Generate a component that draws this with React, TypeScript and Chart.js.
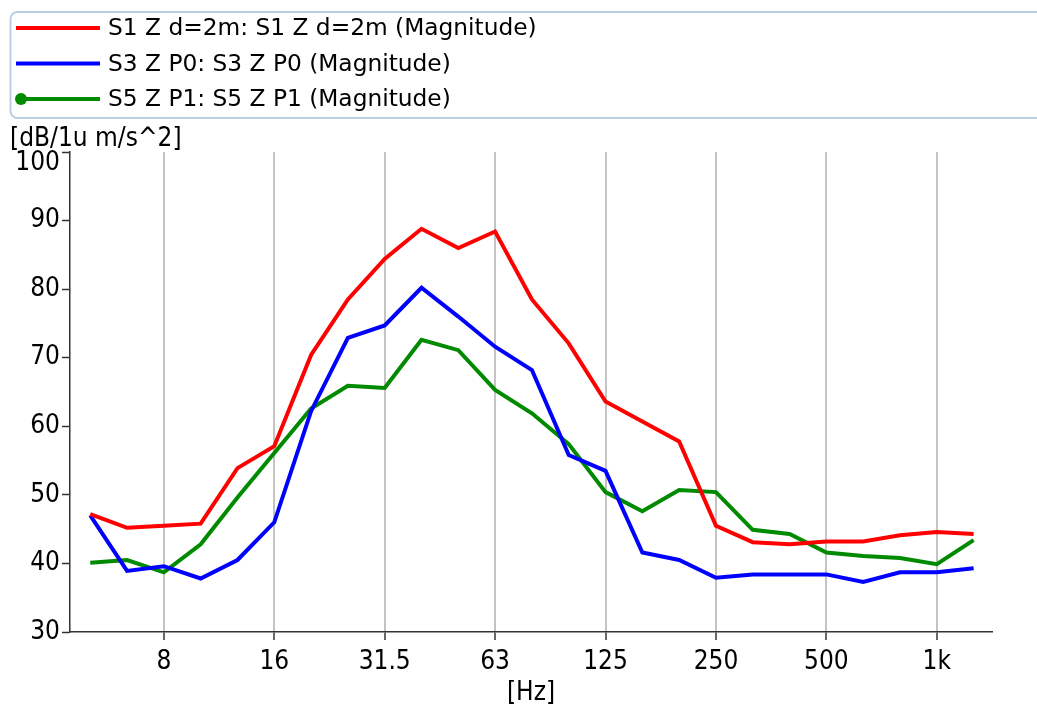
import React, { useEffect, useRef } from "react";
import { Chart, registerables } from "chart.js";

Chart.register(...registerables);

// Third-octave band centre frequencies (x categories)
const bands = ["5", "6.3", "8", "10", "12.5", "16", "20", "25", "31.5", "40", "50", "63", "80", "100", "125", "160", "200", "250", "315", "400", "500", "630", "800", "1k", "1.25k"];

// Series values [dB re 1u m/s^2]
const s1Values = [47.2, 45.2, 45.5, 45.8, 53.9, 57.1, 70.4, 78.5, 84.4, 88.8, 86.0, 88.4, 78.5, 72.1, 63.6, 60.7, 57.8, 45.5, 43.1, 42.8, 43.2, 43.2, 44.1, 44.6, 44.3];
const s3Values = [47.0, 38.9, 39.6, 37.8, 40.5, 46.0, 62.2, 72.9, 74.7, 80.2, 76.0, 71.6, 68.2, 55.8, 53.5, 41.6, 40.5, 37.9, 38.4, 38.4, 38.4, 37.3, 38.7, 38.7, 39.3];
const s5Values = [40.1, 40.5, 38.7, 42.8, 49.6, 56.1, 62.6, 65.9, 65.6, 72.6, 71.1, 65.3, 61.9, 57.4, 50.4, 47.6, 50.7, 50.4, 44.9, 44.3, 41.6, 41.1, 40.8, 39.9, 43.4];

const seriesNames = [
  "S1 Z d=2m: S1 Z d=2m (Magnitude)",
  "S3 Z P0: S3 Z P0 (Magnitude)",
  "S5 Z P1: S5 Z P1 (Magnitude)",
];
const seriesColors = ["#ff0000", "#0000ff", "#008a00"];

const xTickLabels = ["8", "16", "31.5", "63", "125", "250", "500", "1k"];
const yTicks = [30, 40, 50, 60, 70, 80, 90, 100];
const yTitle = "[dB/1u m/s^2]";
const xTitle = "[Hz]";

const AXIS_FONT = "'DejaVu Sans Condensed', 'DejaVu Sans', sans-serif";
const LEGEND_FONT = "'DejaVu Sans', sans-serif";

const toPoints = (vals: number[]) => vals.map((v, i) => ({ x: i, y: v }));

const overlayPlugin = {
  id: "overlay",
  afterDraw(chart: any) {
    const ctx = chart.ctx;
    ctx.save();
    // legend box
    ctx.strokeStyle = "#bccfe2";
    ctx.lineWidth = 2;
    const bx = 10.5, by = 12, bw = 1200, bh = 106, r = 7;
    ctx.beginPath();
    ctx.moveTo(bx + bw, by);
    ctx.lineTo(bx + r, by);
    ctx.arcTo(bx, by, bx, by + r, r);
    ctx.lineTo(bx, by + bh - r);
    ctx.arcTo(bx, by + bh, bx + r, by + bh, r);
    ctx.lineTo(bx + bw, by + bh);
    ctx.stroke();

    const rows = [28, 63.5, 99];
    ctx.font = "23.3px " + LEGEND_FONT;
    ctx.textBaseline = "middle";
    ctx.textAlign = "left";
    seriesNames.forEach((name, i) => {
      const y = rows[i];
      ctx.strokeStyle = seriesColors[i];
      ctx.lineWidth = 4;
      ctx.beginPath();
      ctx.moveTo(i === 2 ? 21 : 16, y);
      ctx.lineTo(100, y);
      ctx.stroke();
      if (i === 2) {
        ctx.fillStyle = seriesColors[i];
        ctx.beginPath();
        ctx.arc(21, y, 6, 0, Math.PI * 2);
        ctx.fill();
      }
      ctx.fillStyle = "#000";
      ctx.fillText(name, 108, y + 1);
    });

    // y axis title
    ctx.font = "26px " + AXIS_FONT;
    ctx.fillStyle = "#000";
    ctx.textBaseline = "middle";
    ctx.fillText(yTitle, 10, 139);

    // top y tick label, kept inside the axis as in the reference
    const yScale = chart.scales.y;
    const topVal = yTicks[yTicks.length - 1];
    ctx.textAlign = "right";
    ctx.fillText(String(topVal), 60, yScale.getPixelForValue(topVal) + 11);
    ctx.restore();
  },
};

export default function App() {
  const canvasRef = useRef<HTMLCanvasElement | null>(null);

  useEffect(() => {
    const canvas = canvasRef.current;
    if (!canvas) return;
    const tickIdx = xTickLabels.map((l) => bands.indexOf(l));
    const topVal = yTicks[yTicks.length - 1];
    const chart = new Chart(canvas, {
      type: "line",
      data: {
        datasets: [s1Values, s3Values, s5Values].map((vals, i) => ({
          label: seriesNames[i],
          data: toPoints(vals),
          borderColor: seriesColors[i],
          backgroundColor: seriesColors[i],
          borderWidth: 4,
          pointRadius: 0,
          tension: 0,
          fill: false,
        })),
      },
      options: {
        responsive: false,
        animation: false,
        layout: { padding: { top: 152, left: 0, right: 45, bottom: 0 } },
        plugins: {
          legend: { display: false },
          tooltip: { enabled: false },
          title: { display: false },
        },
        scales: {
          x: {
            type: "linear",
            min: -0.55,
            max: 24.5,
            afterBuildTicks: (scale: any) => {
              scale.ticks = tickIdx.map((v) => ({ value: v }));
            },
            afterFit: (scale: any) => {
              scale.height = 73;
            },
            ticks: {
              autoSkip: false,
              maxRotation: 0,
              color: "#000",
              padding: 7,
              font: { family: AXIS_FONT, size: 26 },
              callback: (value: any) => {
                const k = tickIdx.indexOf(Number(value));
                return k >= 0 ? xTickLabels[k] : "";
              },
            },
            grid: {
              color: "#c4c4c4",
              lineWidth: 2,
              tickColor: "#333",
              tickLength: 8,
              tickWidth: 1.5,
            },
            border: { display: true, color: "#333", width: 1.5 },
            title: {
              display: true,
              text: xTitle,
              color: "#000",
              font: { family: AXIS_FONT, size: 26 },
              padding: { top: 0, bottom: -4 },
            },
          },
          y: {
            type: "linear",
            min: 30,
            max: 100,
            afterBuildTicks: (scale: any) => {
              scale.ticks = yTicks.map((v) => ({ value: v }));
            },
            afterFit: (scale: any) => {
              scale.width = 70;
            },
            ticks: {
              color: "#000",
              padding: 2,
              font: { family: AXIS_FONT, size: 26 },
              callback: (value: any) => (Number(value) === topVal ? "" : String(value)),
            },
            grid: {
              drawOnChartArea: false,
              tickColor: "#333",
              tickLength: 8,
              tickWidth: 1.5,
            },
            border: { display: true, color: "#333", width: 1.5 },
          },
        },
      },
      plugins: [overlayPlugin],
    } as any);
    return () => chart.destroy();
  }, []);

  return (
    <div style={{ position: "absolute", left: 0, top: 0, width: 1037, height: 705, background: "#fff" }}>
      <canvas ref={canvasRef} width={1037} height={705} style={{ display: "block" }} />
    </div>
  );
}
